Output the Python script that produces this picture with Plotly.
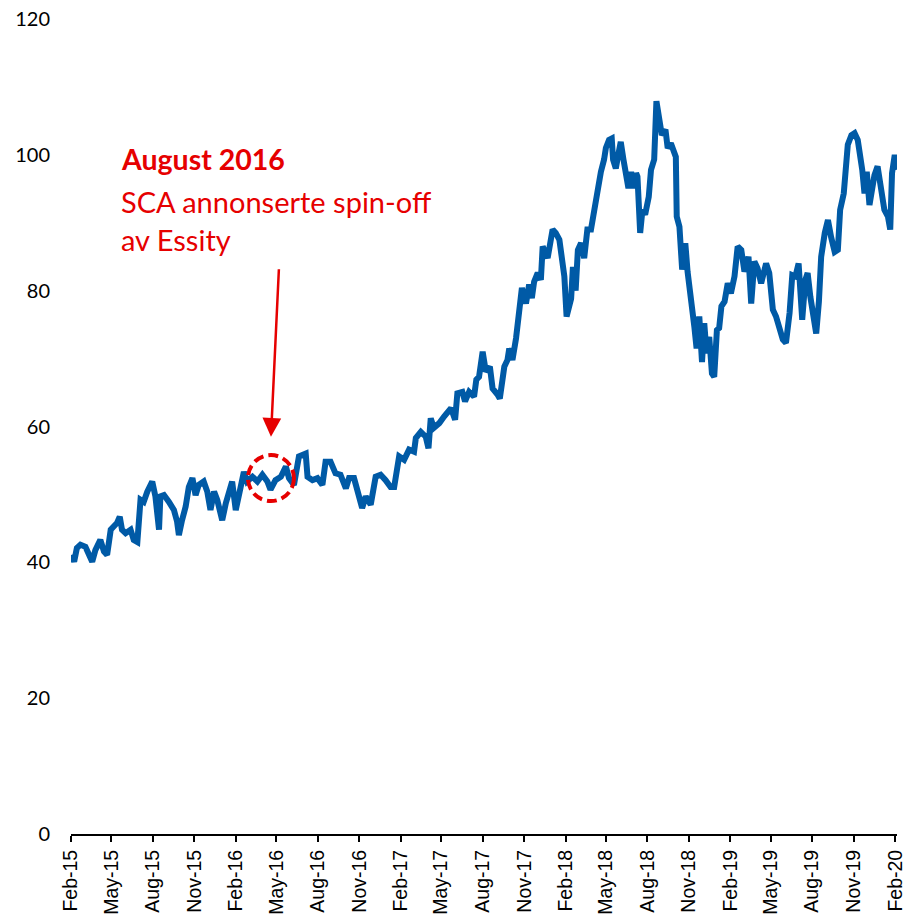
import plotly.graph_objects as go

# Share price, weekly closes (SEK)
dates = [
    "2015-02-02", "2015-02-08", "2015-02-14", "2015-02-22", "2015-03-05", "2015-03-16",
    "2015-03-20", "2015-03-27", "2015-04-07", "2015-04-15", "2015-04-22", "2015-04-30",
    "2015-05-07", "2015-05-14", "2015-05-20", "2015-05-25", "2015-06-02", "2015-06-13",
    "2015-06-20", "2015-06-28", "2015-07-05", "2015-07-12", "2015-07-20", "2015-07-31",
    "2015-08-07", "2015-08-15", "2015-08-18", "2015-08-26", "2015-09-06", "2015-09-17",
    "2015-09-24", "2015-09-28", "2015-10-05", "2015-10-13", "2015-10-20", "2015-10-28",
    "2015-11-04", "2015-11-11", "2015-11-22", "2015-11-30", "2015-12-07", "2015-12-15",
    "2015-12-22", "2016-01-02", "2016-01-10", "2016-01-17", "2016-01-24", "2016-02-01",
    "2016-02-08", "2016-02-19", "2016-02-26", "2016-03-09", "2016-03-20", "2016-03-31",
    "2016-04-11", "2016-04-18", "2016-04-29", "2016-05-11", "2016-05-22", "2016-05-29",
    "2016-06-09", "2016-06-20", "2016-07-05", "2016-07-09", "2016-07-20", "2016-07-31",
    "2016-08-11", "2016-08-18", "2016-08-29", "2016-09-09", "2016-09-20", "2016-10-02",
    "2016-10-09", "2016-10-20", "2016-10-27", "2016-11-07", "2016-11-15", "2016-11-26",
    "2016-12-07", "2016-12-18", "2016-12-29", "2017-01-09", "2017-01-17", "2017-01-22",
    "2017-01-28", "2017-02-08", "2017-02-19", "2017-03-02", "2017-03-06", "2017-03-17",
    "2017-03-28", "2017-04-03", "2017-04-08", "2017-04-15", "2017-04-27", "2017-05-08",
    "2017-05-23", "2017-06-01", "2017-06-06", "2017-06-17", "2017-06-23", "2017-07-02",
    "2017-07-13", "2017-07-18", "2017-07-24", "2017-08-01", "2017-08-08", "2017-08-17",
    "2017-08-23", "2017-09-03", "2017-09-08", "2017-09-18", "2017-09-25", "2017-09-29",
    "2017-10-06", "2017-10-14", "2017-10-21", "2017-10-27", "2017-11-05", "2017-11-12",
    "2017-11-18", "2017-11-23", "2017-12-01", "2017-12-08", "2017-12-12", "2017-12-23",
    "2018-01-03", "2018-01-10", "2018-01-18", "2018-01-25", "2018-01-29", "2018-02-03",
    "2018-02-13", "2018-02-17", "2018-02-23", "2018-02-28", "2018-03-07", "2018-03-14",
    "2018-03-21", "2018-03-29", "2018-04-05", "2018-04-13", "2018-04-20", "2018-04-27",
    "2018-05-01", "2018-05-08", "2018-05-14", "2018-05-17", "2018-05-23", "2018-05-29",
    "2018-06-03", "2018-06-09", "2018-06-15", "2018-06-20", "2018-06-26", "2018-07-01",
    "2018-07-07", "2018-07-10", "2018-07-16", "2018-07-21", "2018-07-27", "2018-08-04",
    "2018-08-09", "2018-08-16", "2018-08-21", "2018-08-27", "2018-09-02", "2018-09-10",
    "2018-09-15", "2018-09-22", "2018-09-30", "2018-10-03", "2018-10-05", "2018-10-11",
    "2018-10-17", "2018-10-24", "2018-10-29", "2018-11-06", "2018-11-13", "2018-11-18",
    "2018-11-24", "2018-11-30", "2018-12-05", "2018-12-10", "2018-12-16", "2018-12-22",
    "2018-12-27", "2019-01-02", "2019-01-07", "2019-01-12", "2019-01-19", "2019-01-26",
    "2019-02-02", "2019-02-10", "2019-02-17", "2019-02-25", "2019-03-04", "2019-03-13",
    "2019-03-19", "2019-03-26", "2019-04-02", "2019-04-10", "2019-04-21", "2019-04-28",
    "2019-05-06", "2019-05-13", "2019-05-20", "2019-05-28", "2019-06-04", "2019-06-12",
    "2019-06-18", "2019-06-25", "2019-07-02", "2019-07-10", "2019-07-17", "2019-07-22",
    "2019-07-28", "2019-08-04", "2019-08-10", "2019-08-16", "2019-08-21", "2019-08-29",
    "2019-09-05", "2019-09-12", "2019-09-20", "2019-09-27", "2019-10-02", "2019-10-10",
    "2019-10-14", "2019-10-19", "2019-10-27", "2019-11-03", "2019-11-10", "2019-11-15",
    "2019-11-20", "2019-11-25", "2019-11-30", "2019-12-06", "2019-12-12", "2019-12-17",
    "2019-12-24", "2020-01-01", "2020-01-08", "2020-01-16", "2020-01-21", "2020-01-25",
    "2020-01-31", "2020-02-04",
]

prices = [
    41.1, 40.1, 42.1, 42.6, 42.3, 40.8,
    40.1, 41.8, 43.3, 41.6, 41.1, 44.8,
    45.3, 45.8, 46.7, 44.8, 44.3, 44.8,
    43.3, 43.0, 49.2, 48.9, 50.4, 51.9,
    49.7, 44.8, 49.7, 49.9, 48.9, 47.7,
    46.0, 44.0, 46.2, 48.2, 51.1, 52.4,
    49.9, 51.4, 51.9, 50.4, 47.7, 50.4,
    49.2, 46.2, 48.7, 50.7, 51.9, 47.7,
    49.7, 53.3, 51.9, 52.6, 51.9, 52.9,
    51.9, 50.7, 52.1, 52.6, 54.1, 52.4,
    51.4, 55.6, 56.0, 52.6, 52.1, 52.4,
    51.4, 54.8, 54.8, 53.1, 52.9, 50.9,
    52.4, 52.4, 50.7, 48.0, 49.7, 48.5,
    52.6, 52.9, 52.1, 51.1, 51.1, 53.4,
    55.6, 55.1, 56.6, 56.3, 58.3, 59.2,
    58.5, 56.8, 61.2, 59.8, 60.5, 61.5,
    62.7, 61.0, 64.9, 65.1, 63.7, 65.1,
    64.4, 66.9, 67.3, 71.0, 68.1, 68.8,
    65.6, 64.7, 64.1, 68.8, 69.8, 71.5,
    69.8, 73.0, 76.2, 80.4, 78.1, 80.9,
    78.9, 81.3, 82.6, 81.6, 86.5, 84.8,
    89.0, 88.5, 87.5, 84.0, 82.1, 76.2,
    78.8, 83.5, 80.0, 86.0, 87.0, 84.8,
    89.0, 89.0, 92.1, 94.3, 97.5, 99.3,
    101.0, 102.2, 102.4, 99.3, 98.0, 100.2,
    101.9, 99.3, 96.8, 95.1, 97.5, 95.1,
    97.3, 96.8, 88.5, 91.9, 91.2, 93.8,
    97.8, 99.3, 107.9, 105.2, 102.9, 103.7,
    101.0, 101.7, 100.5, 99.7, 90.9, 89.4,
    83.1, 87.0, 82.8, 79.1, 74.7, 71.5,
    76.2, 69.5, 75.2, 70.8, 73.2, 67.8,
    67.3, 74.2, 74.5, 77.7, 78.4, 81.1,
    79.6, 82.1, 86.5, 86.0, 82.8, 85.0,
    78.1, 84.3, 83.3, 81.1, 84.0, 82.6,
    77.2, 76.2, 74.7, 72.8, 72.3, 76.7,
    82.3, 82.1, 84.0, 75.7, 81.6, 82.6,
    79.1, 75.7, 73.7, 78.4, 85.0, 88.5,
    90.4, 87.9, 85.7, 86.0, 91.9, 94.3,
    97.8, 101.5, 102.9, 103.2, 102.2, 100.2,
    97.8, 94.3, 97.5, 92.6, 95.3, 97.0,
    98.3, 95.3, 91.9, 90.9, 89.0, 97.3,
    100.0, 97.8,
]

# Spin-off marker: where the arrow points and the circle sits
event_date = "2016-04-19"
event_price = 52.4
arrow_tip_price = 58.5

headline = "August 2016"
note_lines = ["SCA annonserte spin-off", "av Essity"]

BLUE = "#005AA6"
RED = "#E60000"
FONT = "Lato"
AXIS_FONT = "Liberation Sans"

fig = go.Figure()
fig.add_trace(go.Scatter(
    x=dates, y=prices, mode="lines",
    line=dict(color=BLUE, width=6),
    hoverinfo="x+y", showlegend=False,
))

# dashed circle around the event
fig.add_shape(
    type="circle", xref="x", yref="y",
    xsizemode="pixel", ysizemode="pixel",
    xanchor=event_date, yanchor=event_price,
    x0=-23, x1=23, y0=-23, y1=23,
    line=dict(color=RED, width=4, dash="10px,5px"),
)

# arrow pointing down at the circle
fig.add_annotation(
    x=event_date, y=arrow_tip_price, xref="x", yref="y",
    text="", showarrow=True, ax=8, ay=-169,
    arrowhead=2, arrowsize=1.5, arrowwidth=2.5, arrowcolor=RED,
    standoff=0,
)

# callout text
fig.add_annotation(
    x=0.058, y=0.828, xref="paper", yref="paper",
    xanchor="left", yanchor="middle", showarrow=False,
    text="<b>" + headline + "</b>",
    font=dict(family=FONT, size=28.5, color=RED),
)
for i, line in enumerate(note_lines):
    fig.add_annotation(
        x=0.058, y=0.776 - i * 0.047, xref="paper", yref="paper",
        xanchor="left", yanchor="middle", showarrow=False,
        text=line,
        font=dict(family=FONT, size=29, color=RED),
    )

fig.update_layout(
    width=905, height=922,
    margin=dict(l=71, r=8, t=19, b=88, autoexpand=False),
    paper_bgcolor="white", plot_bgcolor="white",
    font=dict(family=FONT, size=20, color="black"),
    showlegend=False,
)
fig.update_xaxes(
    type="date", automargin=False,
    range=["2015-02-01", "2020-02-05"],
    tick0="2015-02-01", dtick="M3", tickformat="%b-%y",
    tickangle=-90, ticklabeloverflow="allow",
    showline=True, linecolor="black", linewidth=2,
    ticks="outside", ticklen=6, tickwidth=1.5, tickcolor="black",
    showgrid=False, zeroline=False,
    tickfont=dict(family=AXIS_FONT, size=19.5, color="black"),
)
fig.update_yaxes(
    range=[0, 120], dtick=20, tick0=0, automargin=False,
    showline=False, ticks="", showgrid=False, zeroline=False,
    ticklabelstandoff=20,
    tickfont=dict(family=FONT, size=20, color="black"),
)

fig.write_html("out.html")
